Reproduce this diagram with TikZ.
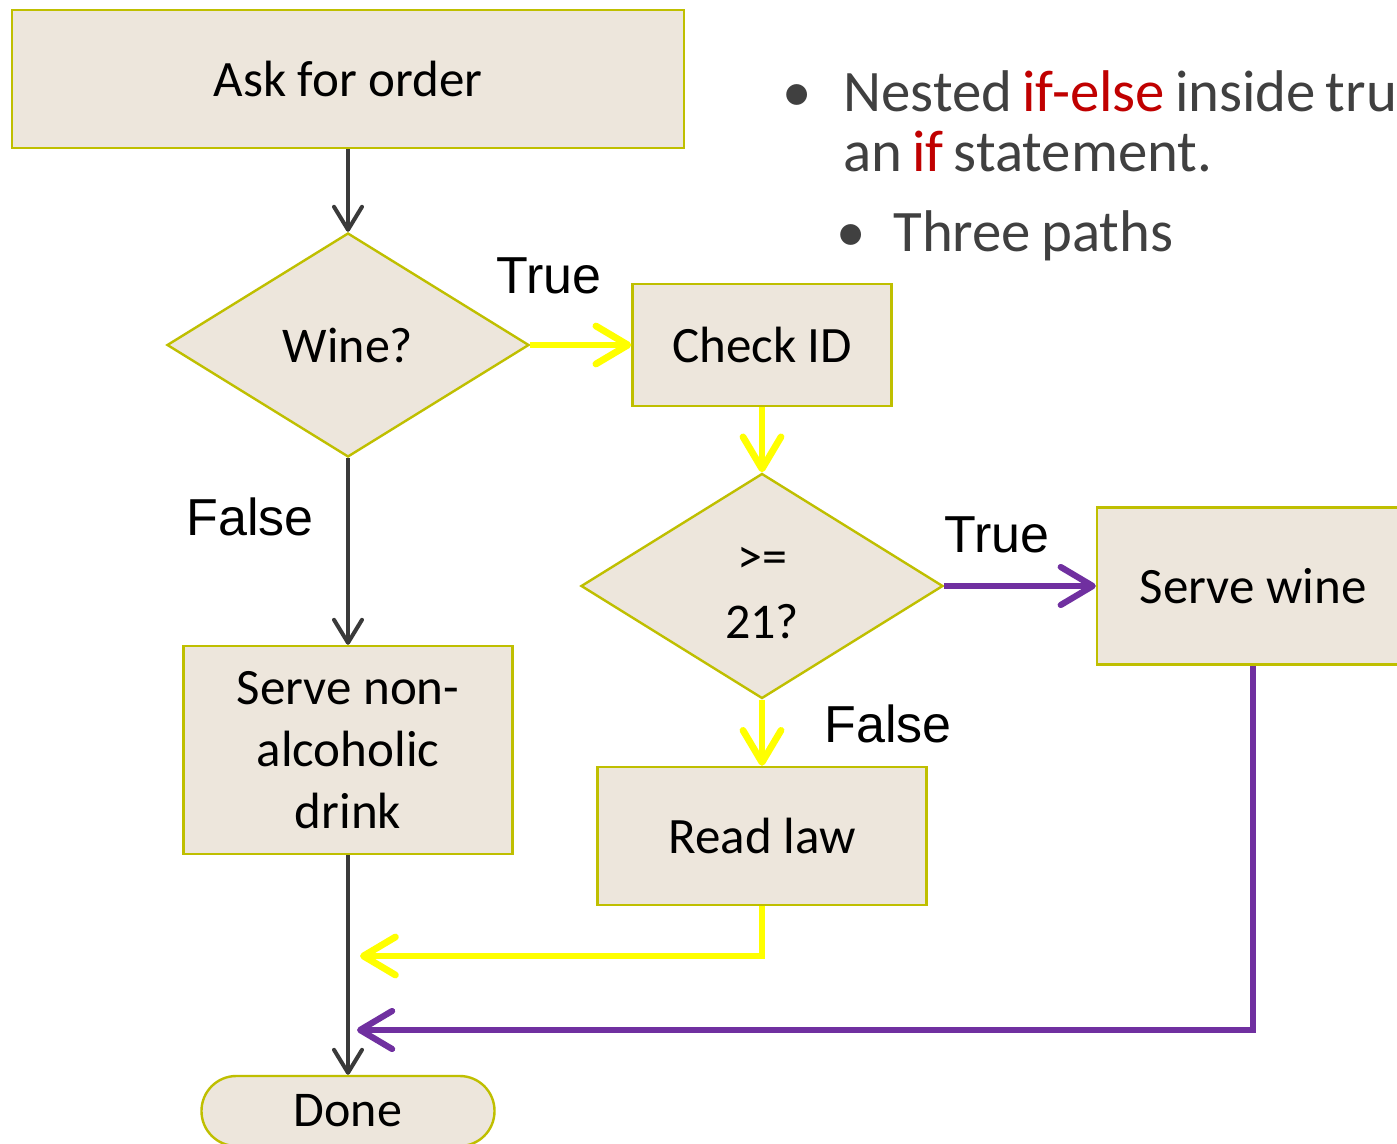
\documentclass[tikz,border=0pt]{standalone}
\usepackage{fontspec}
\setmainfont{Carlito}
\newfontfamily\arialfont{Liberation Sans}
\usetikzlibrary{shapes.geometric,arrows.meta}

\definecolor{boxfill}{HTML}{EDE6DC}
\definecolor{boxline}{HTML}{BFBF00}
\definecolor{darkline}{HTML}{3A3A3A}
\definecolor{yline}{HTML}{FFFF00}
\definecolor{pline}{HTML}{7030A0}
\definecolor{bodytext}{HTML}{404040}
\definecolor{keyword}{HTML}{C00000}

\tikzset{
  procbox/.style={draw=boxline, fill=boxfill, line width=1.2pt, rectangle,
    inner sep=0pt, align=center, font=\fontsize{25.5}{31}\selectfont},
  decision/.style={draw=boxline, fill=boxfill, line width=1.2pt, diamond,
    inner sep=0pt, align=center, font=\fontsize{25}{32.5}\selectfont},
  terminal/.style={draw=boxline, fill=boxfill, line width=1.2pt, rectangle,
    rounded corners=17.4pt, inner sep=0pt, font=\fontsize{25}{31}\selectfont},
  darkflow/.style={draw=darkline, line width=2pt,
    -{Straight Barb[length=11.5pt, width=14pt, round]}},
  yflow/.style={draw=yline, line width=3.4pt,
    -{Straight Barb[length=16pt, width=19pt, round]}},
  pflow/.style={draw=pline, line width=3.1pt,
    -{Straight Barb[length=16pt, width=19pt, round]}},
  branchlabel/.style={font=\arialfont\fontsize{26}{30}\selectfont, inner sep=0pt},
  bulletmark/.style={anchor=base, inner sep=0pt, text=bodytext,
    font=\fontsize{29.4}{34}\selectfont},
  bullettext/.style={anchor=base west, inner sep=0pt, text=bodytext,
    font=\fontsize{29.4}{34}\selectfont},
}

\begin{document}
\begin{tikzpicture}[x=0.5pt, y=-0.5pt]
\useasboundingbox (0,0) rectangle (1397,1144);
\fill[white] (0,0) rectangle (1397,1144);

% process boxes and decisions
\node[procbox, minimum width=336pt, minimum height=69pt] (ask) at (348,79) {Ask for order};
\node[decision, minimum width=181pt, minimum height=112pt] (wine) at (348,345) {Wine?};
\node[procbox, minimum width=129.5pt, minimum height=61pt] (check) at (762,345) {Check ID};
\node[decision, minimum width=181pt, minimum height=112.5pt] (age) at (762,586) {\rule{0pt}{20pt}>=\\21?};
\node[procbox, minimum width=156pt, minimum height=78.5pt] (wineok) at (1253,586) {Serve wine};
\node[procbox, minimum width=164.5pt, minimum height=69pt] (law) at (762,836) {Read law};
\node[procbox, minimum width=164.5pt, minimum height=104pt] (soft) at (348,750) {Serve non-\\alcoholic\\drink};
\node[terminal, minimum width=146.5pt, minimum height=35pt] (done) at (348,1111) {Done};

% branch labels
\node[branchlabel] (t1) at (549,276) {True};
\node[branchlabel] (f1) at (250,517) {False};
\node[branchlabel] (t2) at (997,535) {True};
\node[branchlabel] (f2) at (888,724) {False};

% ends of the two return paths
\coordinate (yret) at (360,956);
\coordinate (pret) at (357,1030);

% main flow
\draw[darkflow] (ask) -- (wine);
\draw[darkflow] (wine.south) -- (soft.north);
\draw[darkflow] (soft.south) -- (done.north);

% inner if-else (yellow)
\draw[yflow] (wine.east) -- (check.west);
\draw[yflow] (check.south) -- (age.north);
\draw[yflow] (age.south) -- (law.north);
\draw[yflow] (law.south) |- (yret);

% serve path (purple)
\draw[pflow] (age.east) -- (wineok.west);
\draw[pflow] (wineok.south) |- (pret);

% notes (tight word spacing)
\node[bulletmark] (b1) at (797,112) {•};
\node[bullettext] (n1) at (843,112) {\spaceskip=0.17em\relax Nested \textcolor{keyword}{if-else} inside tru};
\node[bullettext] (n2) at (843,172) {\spaceskip=0.17em\relax an \textcolor{keyword}{if} statement.};
\node[bulletmark] (b2) at (851,252) {•};
\node[bullettext] (n3) at (893,252) {\spaceskip=0.17em\relax Three paths};
\end{tikzpicture}
\end{document}
